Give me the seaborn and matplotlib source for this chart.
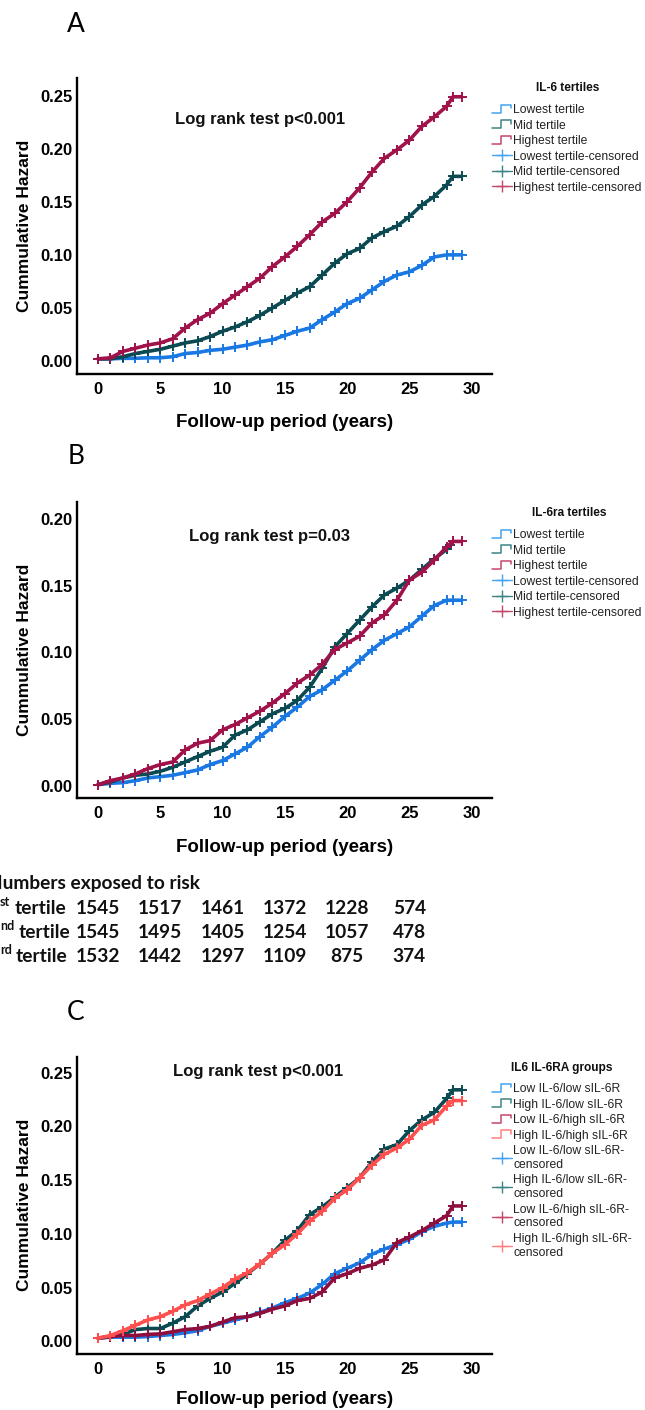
import numpy as np
import pandas as pd
import matplotlib
matplotlib.use('Agg')
import matplotlib.pyplot as plt
import matplotlib.transforms as mtransforms
from matplotlib.lines import Line2D
from matplotlib.legend_handler import HandlerBase
import seaborn as sns

# ---- data (cumulative hazard by follow-up year) ----
yrs = list(range(29)) + [28.5, 29.2]
yrs_b_mid = list(range(29)) + [28.3]

# A: IL-6 tertiles
a_low = [0.002, 0.002, 0.0025, 0.0025, 0.003, 0.003, 0.004, 0.007, 0.008, 0.010, 0.011,
         0.013, 0.015, 0.018, 0.020, 0.024, 0.028, 0.031, 0.039, 0.046, 0.054,
         0.059, 0.067, 0.075, 0.081, 0.084, 0.090, 0.098, 0.100, 0.100, 0.100]
a_mid = [0.002, 0.002, 0.004, 0.007, 0.009, 0.011, 0.014, 0.017, 0.019, 0.023, 0.028,
         0.032, 0.037, 0.043, 0.050, 0.057, 0.064, 0.070, 0.081, 0.092, 0.101,
         0.106, 0.116, 0.122, 0.127, 0.136, 0.147, 0.155, 0.166, 0.174, 0.174]
a_high = [0.002, 0.003, 0.009, 0.012, 0.015, 0.017, 0.021, 0.031, 0.039, 0.045, 0.054,
          0.062, 0.070, 0.078, 0.089, 0.098, 0.108, 0.119, 0.131, 0.139, 0.150,
          0.163, 0.178, 0.191, 0.199, 0.208, 0.221, 0.230, 0.240, 0.249, 0.249]

# B: IL-6ra tertiles
b_low = [0.001, 0.002, 0.0025, 0.004, 0.006, 0.007, 0.008, 0.010, 0.012, 0.016, 0.019,
         0.024, 0.029, 0.037, 0.044, 0.052, 0.059, 0.067, 0.072, 0.079, 0.086,
         0.094, 0.102, 0.109, 0.114, 0.119, 0.127, 0.135, 0.139, 0.139, 0.139]
b_mid = [0.001, 0.003, 0.006, 0.008, 0.009, 0.011, 0.014, 0.018, 0.022, 0.026, 0.029,
         0.038, 0.042, 0.048, 0.054, 0.058, 0.064, 0.074, 0.088, 0.104, 0.114,
         0.124, 0.134, 0.143, 0.148, 0.154, 0.162, 0.170, 0.177, 0.180]
b_high = [0.001, 0.004, 0.006, 0.009, 0.013, 0.016, 0.018, 0.027, 0.032, 0.034, 0.042,
          0.046, 0.051, 0.056, 0.062, 0.069, 0.077, 0.083, 0.091, 0.102, 0.107,
          0.112, 0.122, 0.128, 0.139, 0.154, 0.160, 0.169, 0.179, 0.183, 0.183]

# C: IL6 / IL-6RA groups
c_lowlow = [0.003, 0.004, 0.004, 0.004, 0.0045, 0.0055, 0.0065, 0.008, 0.010, 0.014, 0.017,
            0.020, 0.023, 0.027, 0.031, 0.036, 0.040, 0.045, 0.053, 0.063, 0.068,
            0.073, 0.081, 0.086, 0.090, 0.095, 0.102, 0.107, 0.110, 0.111, 0.111]
c_highlow = [0.003, 0.0045, 0.0065, 0.011, 0.012, 0.012, 0.017, 0.023, 0.033, 0.040, 0.046,
             0.054, 0.063, 0.072, 0.082, 0.094, 0.103, 0.118, 0.125, 0.134, 0.143,
             0.152, 0.167, 0.179, 0.183, 0.196, 0.206, 0.213, 0.226, 0.234, 0.234]
c_lowhigh = [0.003, 0.0045, 0.0055, 0.0055, 0.0065, 0.007, 0.009, 0.011, 0.012, 0.014, 0.018,
             0.022, 0.023, 0.026, 0.030, 0.033, 0.038, 0.040, 0.046, 0.059, 0.063,
             0.068, 0.071, 0.076, 0.092, 0.097, 0.103, 0.110, 0.117, 0.126, 0.126]
c_highhigh = [0.003, 0.0055, 0.010, 0.015, 0.020, 0.023, 0.028, 0.034, 0.038, 0.044, 0.050,
              0.058, 0.064, 0.072, 0.082, 0.090, 0.100, 0.112, 0.121, 0.133, 0.141,
              0.152, 0.164, 0.174, 0.180, 0.188, 0.201, 0.206, 0.219, 0.224, 0.224]

tertile_names = ['Lowest tertile', 'Mid tertile', 'Highest tertile']
group_names = ['Low IL-6/low sIL-6R', 'High IL-6/low sIL-6R',
               'Low IL-6/high sIL-6R', 'High IL-6/high sIL-6R']

# numbers at risk (panel B tertiles)
risk_years = [0, 5, 10, 15, 20, 25]
risk_1st = [1545, 1517, 1461, 1372, 1228, 574]
risk_2nd = [1545, 1495, 1405, 1254, 1057, 478]
risk_3rd = [1532, 1442, 1297, 1109, 875, 374]

# colours
blue, teal, crimson, salmon = '#1a78e3', '#0b4a52', '#a0124a', '#ff4f4f'
crimson_c = '#8e0f3e'
leg_blue, leg_teal, leg_crimson, leg_salmon = '#45a3ef', '#3d8484', '#c4476c', '#ff8080'

sns.set_theme(style='white')
plt.rcParams['font.family'] = ['Liberation Sans', 'DejaVu Sans']

W, H = 645, 1410
fig = plt.figure(figsize=(W / 100, H / 100), dpi=100)


def fx(x):
    return x / W


def fy(y):
    return 1 - y / H


def make_axes(top, bottom):
    return fig.add_axes([fx(76.5), fy(bottom), fx(492) - fx(76.5), (bottom - top) / H])


def long_df(times, values, names):
    frames = [pd.DataFrame({'time': t, 'hazard': v, 'group': n})
              for t, v, n in zip(times, values, names)]
    return pd.concat(frames, ignore_index=True)


class StepHandler(HandlerBase):
    def create_artists(self, legend, orig_handle, xdescent, ydescent,
                       width, height, fontsize, trans):
        xs = np.array([0.0, 0.45, 0.45, 0.95, 0.95]) * width - xdescent
        ys = np.array([0.05, 0.05, 0.95, 0.95, 0.55]) * height - ydescent
        ln = Line2D(xs, ys, color=orig_handle.get_color(), lw=1.1)
        ln.set_transform(trans)
        return [ln]


class StepKey(Line2D):
    pass


def draw_panel(ax, df, names, colors, ylim, yticks, logrank, lr_xy, xpad=13):
    sns.lineplot(data=df, x='time', y='hazard', hue='group', hue_order=names,
                 palette=colors, ax=ax, legend=False, errorbar=None,
                 lw=2.6, marker='+', markersize=6.5, mew=1.4)
    for ln in ax.lines:
        ln.set_markeredgecolor(ln.get_color())
    ax.set_xlim(-1.73, 31.64)
    ax.set_ylim(*ylim)
    ax.set_xticks([0, 5, 10, 15, 20, 25, 30],
                  labels=['0', '5', '10', '15', '20', '25', '30'],
                  fontweight='bold', fontsize=12)
    ax.set_yticks(yticks, labels=[f'{v:.2f}' for v in yticks],
                  fontweight='bold', fontsize=12)
    ax.tick_params(axis='both', length=0, colors='black')
    ax.tick_params(axis='x', pad=6)
    ax.tick_params(axis='y', pad=3)
    sns.despine(ax=ax)
    for s in ['left', 'bottom']:
        ax.spines[s].set_linewidth(1.7)
        ax.spines[s].set_color('black')
    ax.set_xlabel('Follow-up period (years)', fontsize=13.5, fontweight='bold',
                  color='black', labelpad=xpad)
    ax.set_ylabel('Cummulative Hazard', fontsize=12.5, fontweight='bold',
                  color='black', labelpad=6)
    ax.text(lr_xy[0], lr_xy[1], logrank, ha='center', va='center',
            fontsize=12, fontweight='bold', color='#111111')


def add_legend(ax, labels, step_colors, top, title, title_xy):
    handles = [StepKey([], [], color=c) for c in step_colors]
    handles += [Line2D([], [], color=c, lw=1.0, marker='+', markersize=9, mew=1.0)
                for c in step_colors]
    leg = ax.legend(handles, labels, loc='upper left',
                    bbox_to_anchor=(fx(492), fy(top)), bbox_transform=fig.transFigure,
                    frameon=False, fontsize=8.7, handlelength=1.65, handleheight=0.7,
                    handletextpad=0.1, labelspacing=0.29, borderpad=0, borderaxespad=0,
                    numpoints=1, handler_map={StepKey: StepHandler()})
    for t in leg.get_texts():
        t.set_color('#222222')
    fig.text(fx(title_xy[0]), fy(title_xy[1]), title, ha='center', va='center',
             fontsize=8.6, fontweight='bold', color='#111111')


# ---- panel A ----
ax_a = make_axes(78, 374)
df_a = long_df([yrs] * 3, [a_low, a_mid, a_high], tertile_names)
draw_panel(ax_a, df_a, tertile_names, [blue, teal, crimson], (-0.0123, 0.2667),
           [0, 0.05, 0.10, 0.15, 0.20, 0.25], 'Log rank test p<0.001', (13.0, 0.228),
           xpad=12)
add_legend(ax_a, tertile_names + [n + '-censored' for n in tertile_names],
           [leg_blue, leg_teal, leg_crimson], 104, 'IL-6 tertiles', (568, 88))

# ---- panel B ----
ax_b = make_axes(502, 798)
df_b = long_df([yrs, yrs_b_mid, yrs], [b_low, b_mid, b_high], tertile_names)
draw_panel(ax_b, df_b, tertile_names, [blue, teal, crimson], (-0.009, 0.2125),
           [0, 0.05, 0.10, 0.15, 0.20], 'Log rank test p=0.03', (13.8, 0.187))
add_legend(ax_b, tertile_names + [n + '-censored' for n in tertile_names],
           [leg_blue, leg_teal, leg_crimson], 529, 'IL-6ra tertiles', (569, 513))

# ---- panel C ----
ax_c = make_axes(1056.5, 1354)
df_c = long_df([yrs] * 4, [c_lowlow, c_highlow, c_lowhigh, c_highhigh], group_names)
draw_panel(ax_c, df_c, group_names, [blue, teal, crimson_c, salmon], (-0.0117, 0.265),
           [0, 0.05, 0.10, 0.15, 0.20, 0.25], 'Log rank test p<0.001', (12.85, 0.2515),
           xpad=10)
add_legend(ax_c, group_names + [n + '-\ncensored' for n in group_names],
           [leg_blue, leg_teal, leg_crimson, leg_salmon], 1083, 'IL6 IL-6RA groups',
           (562, 1068))

# panel letters
for letter, y in [('A', 25), ('B', 456), ('C', 1013)]:
    fig.text(fx(76), fy(y), letter, ha='center', va='center', fontsize=19,
             family=['Lato', 'DejaVu Sans'], color='black')

# ---- numbers exposed to risk (left edge cut as in the source) ----
tab_font = dict(family=['Lato', 'DejaVu Sans'], fontweight='bold', fontsize=13.8,
                color='#111111')
fig.text(fx(-12), fy(883), 'Numbers exposed to risk', ha='left', va='center', **tab_font)
row_ys = [908, 932, 956]
row_labels = [('1', 'st'), ('2', 'nd'), ('3', 'rd')]
sup_w = {'st': 15, 'nd': 19, 'rd': 16}
for (num, sup), y in zip(row_labels, row_ys):
    fig.text(fx(-1), fy(y), num, ha='right', va='center', **tab_font)
    fig.text(fx(0), fy(y - 6), sup, ha='left', va='center',
             family=['Lato', 'DejaVu Sans'], fontweight='bold', fontsize=9,
             color='#111111')
    fig.text(fx(sup_w[sup]), fy(y), 'tertile', ha='left', va='center', **tab_font)

blend = mtransforms.blended_transform_factory(ax_b.transData, fig.transFigure)
for counts, y in zip([risk_1st, risk_2nd, risk_3rd], row_ys):
    for yr, n in zip(risk_years, counts):
        fig.text(yr, fy(y), str(n), transform=blend, ha='center', va='center',
                 **tab_font)

fig.savefig('out.png', dpi=100)
